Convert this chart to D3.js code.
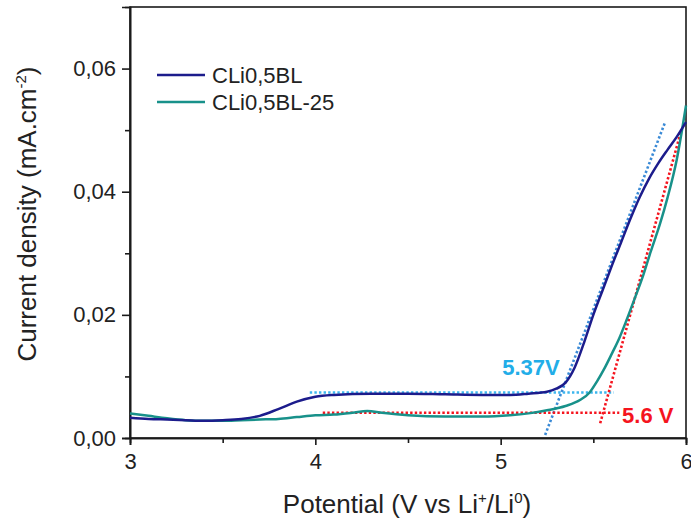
<!DOCTYPE html>
<html>
<head>
<meta charset="utf-8">
<script src="https://cdn.jsdelivr.net/npm/d3@7"></script>
<style>
  html, body { margin: 0; padding: 0; background: #fff; }
  svg { display: block; }
  text { font-family: "Liberation Sans", Arial, sans-serif; fill: #222; }
</style>
</head>
<body>
<svg id="chart" width="691" height="524"></svg>
<script>
// Linear sweep voltammetry: potential (V) vs current density (mA.cm-2)
const seriesNames = ["CLi0,5BL", "CLi0,5BL-25"];
const seriesColors = ["#1c1c8c", "#18918a"];

const potentialA = [3.00, 3.10, 3.20, 3.30, 3.40, 3.50, 3.60, 3.70, 3.80, 3.90, 4.00, 4.10, 4.30, 4.50, 4.70, 4.90, 5.05, 5.15, 5.25, 5.30, 5.35, 5.40, 5.45, 5.50, 5.55, 5.60, 5.65, 5.70, 5.75, 5.80, 5.85, 5.90, 5.95, 6.00];
const currentA   = [0.0033, 0.0031, 0.0030, 0.0029, 0.0028, 0.0029, 0.0031, 0.0036, 0.0047, 0.0059, 0.0067, 0.0070, 0.0072, 0.0072, 0.0071, 0.0070, 0.0070, 0.0072, 0.0075, 0.0080, 0.0090, 0.0115, 0.0155, 0.0200, 0.0240, 0.0280, 0.0318, 0.0356, 0.0391, 0.0421, 0.0446, 0.0468, 0.0489, 0.0513];

const potentialB = [3.00, 3.10, 3.20, 3.30, 3.40, 3.50, 3.60, 3.70, 3.80, 3.90, 4.00, 4.10, 4.20, 4.28, 4.36, 4.50, 4.70, 4.90, 5.05, 5.15, 5.25, 5.35, 5.43, 5.48, 5.52, 5.56, 5.60, 5.64, 5.68, 5.72, 5.77, 5.81, 5.86, 5.90, 5.95, 6.00];
const currentB   = [0.0040, 0.0036, 0.0032, 0.0029, 0.0028, 0.0028, 0.0029, 0.0030, 0.0031, 0.0034, 0.0037, 0.0038, 0.0041, 0.0044, 0.0041, 0.0037, 0.0035, 0.0035, 0.0037, 0.0040, 0.0045, 0.0052, 0.0062, 0.0074, 0.0092, 0.0113, 0.0137, 0.0162, 0.0192, 0.0224, 0.0265, 0.0303, 0.0348, 0.0390, 0.0452, 0.0540];

// Onset construction lines (baseline + tangent) for each sample
const baselineA = [[3.97, 0.0074], [5.61, 0.0074]];
const tangentA  = [[5.24, 0.0005], [5.886, 0.0512]];
const baselineB = [[4.04, 0.0041], [5.64, 0.0041]];
const tangentB  = [[5.537, 0.0024], [5.975, 0.0500]];
const onsetLabels = [
  { text: "5.37V", x: 5.008, y: 0.0102, color: "#22ade8" },
  { text: "5.6 V", x: 5.655, y: 0.0024, color: "#f5141e" }
];

const xMajor = [3, 4, 5, 6];
const xMinor = [3.5, 4.5, 5.5];
const yMajor = [0, 0.02, 0.04, 0.06];
const yMinor = [0.01, 0.03, 0.05];

const margin = { left: 130, right: 5, top: 7, bottom: 86 };
const W = 691, H = 524;
const svg = d3.select("#chart");

const x = d3.scaleLinear().domain([3, 6]).range([margin.left, W - margin.right]);
const y = d3.scaleLinear().domain([0, 0.07]).range([H - margin.bottom, margin.top]);

const commaFmt = d => d3.format(".2f")(d).replace(".", ",");

// Frame
svg.append("rect")
  .attr("x", x(3)).attr("y", y(0.07))
  .attr("width", x(6) - x(3)).attr("height", y(0) - y(0.07))
  .attr("fill", "none").attr("stroke", "#1a1a1a").attr("stroke-width", 1.6);

// Axes
const gx = svg.append("g").attr("transform", `translate(0,${y(0)})`);
gx.call(d3.axisBottom(x).tickValues(xMajor).tickSize(7).tickPadding(8).tickFormat(d3.format("d")));
const gxm = svg.append("g").attr("transform", `translate(0,${y(0)})`);
gxm.call(d3.axisBottom(x).tickValues(xMinor).tickSize(5).tickFormat(""));

const gy = svg.append("g").attr("transform", `translate(${x(3)},0)`);
gy.call(d3.axisLeft(y).tickValues(yMajor).tickSize(8).tickPadding(6).tickFormat(commaFmt));
const gym = svg.append("g").attr("transform", `translate(${x(3)},0)`);
gym.call(d3.axisLeft(y).tickValues(yMinor).tickSize(5).tickFormat(""));

svg.selectAll(".domain").attr("stroke", "#1a1a1a").attr("stroke-width", 1.6);
svg.selectAll(".tick line").attr("stroke", "#1a1a1a").attr("stroke-width", 1.6);
svg.selectAll(".tick text").attr("font-size", 22).attr("fill", "#222")
  .attr("font-family", "'Liberation Sans', Arial, sans-serif");

// Axis titles
const xt = svg.append("text")
  .attr("x", 407).attr("y", 513)
  .attr("text-anchor", "middle").attr("font-size", 26);
xt.append("tspan").text("Potential (V vs Li");
xt.append("tspan").text("+").attr("font-size", 15).attr("dy", -10);
xt.append("tspan").text("/Li").attr("dy", 10);
xt.append("tspan").text("0").attr("font-size", 15).attr("dy", -10);
xt.append("tspan").text(")").attr("dy", 10);

const yt = svg.append("text")
  .attr("transform", "translate(36,214) rotate(-90)")
  .attr("text-anchor", "middle").attr("font-size", 26);
yt.append("tspan").text("Current density (mA.cm");
yt.append("tspan").text("-2").attr("font-size", 15).attr("dy", -10);
yt.append("tspan").text(")").attr("dy", 10);

// Construction lines
const straight = d3.line().x(d => x(d[0])).y(d => y(d[1]));
const dotted = [
  { pts: baselineA, color: "#3cb6ee" },
  { pts: tangentA,  color: "#3a8ad6" },
  { pts: baselineB, color: "#f5141e" },
  { pts: tangentB,  color: "#f5141e" }
];
svg.append("g").selectAll("path").data(dotted).join("path")
  .attr("d", d => straight(d.pts))
  .attr("fill", "none").attr("stroke", d => d.color)
  .attr("stroke-width", 2.6).attr("stroke-dasharray", "2.4,2.2");

// Curves
const curve = d3.line().x(d => x(d[0])).y(d => y(d[1])).curve(d3.curveMonotoneX);
const seriesData = [
  d3.zip(potentialB, currentB),
  d3.zip(potentialA, currentA)
];
const seriesCol = [seriesColors[1], seriesColors[0]];
svg.append("g").selectAll("path").data(seriesData).join("path")
  .attr("d", curve)
  .attr("fill", "none")
  .attr("stroke", (d, i) => seriesCol[i])
  .attr("stroke-width", 2.5);

// Onset labels
svg.append("g").selectAll("text").data(onsetLabels).join("text")
  .attr("x", d => x(d.x)).attr("y", d => y(d.y))
  .attr("font-family", "Carlito, Lato, sans-serif")
  .attr("font-weight", "bold").attr("font-size", 22)
  .style("fill", d => d.color)
  .text(d => d.text);

// Legend
const legend = svg.append("g").attr("transform", "translate(157,75)");
seriesNames.forEach((name, i) => {
  const g = legend.append("g").attr("transform", `translate(0,${i * 27})`);
  g.append("line").attr("x1", 0).attr("x2", 48).attr("y1", 0).attr("y2", 0)
    .attr("stroke", seriesColors[i]).attr("stroke-width", 2.5);
  g.append("text").attr("x", 55).attr("y", 8).attr("font-size", 22).text(name);
});
</script>
</body>
</html>
